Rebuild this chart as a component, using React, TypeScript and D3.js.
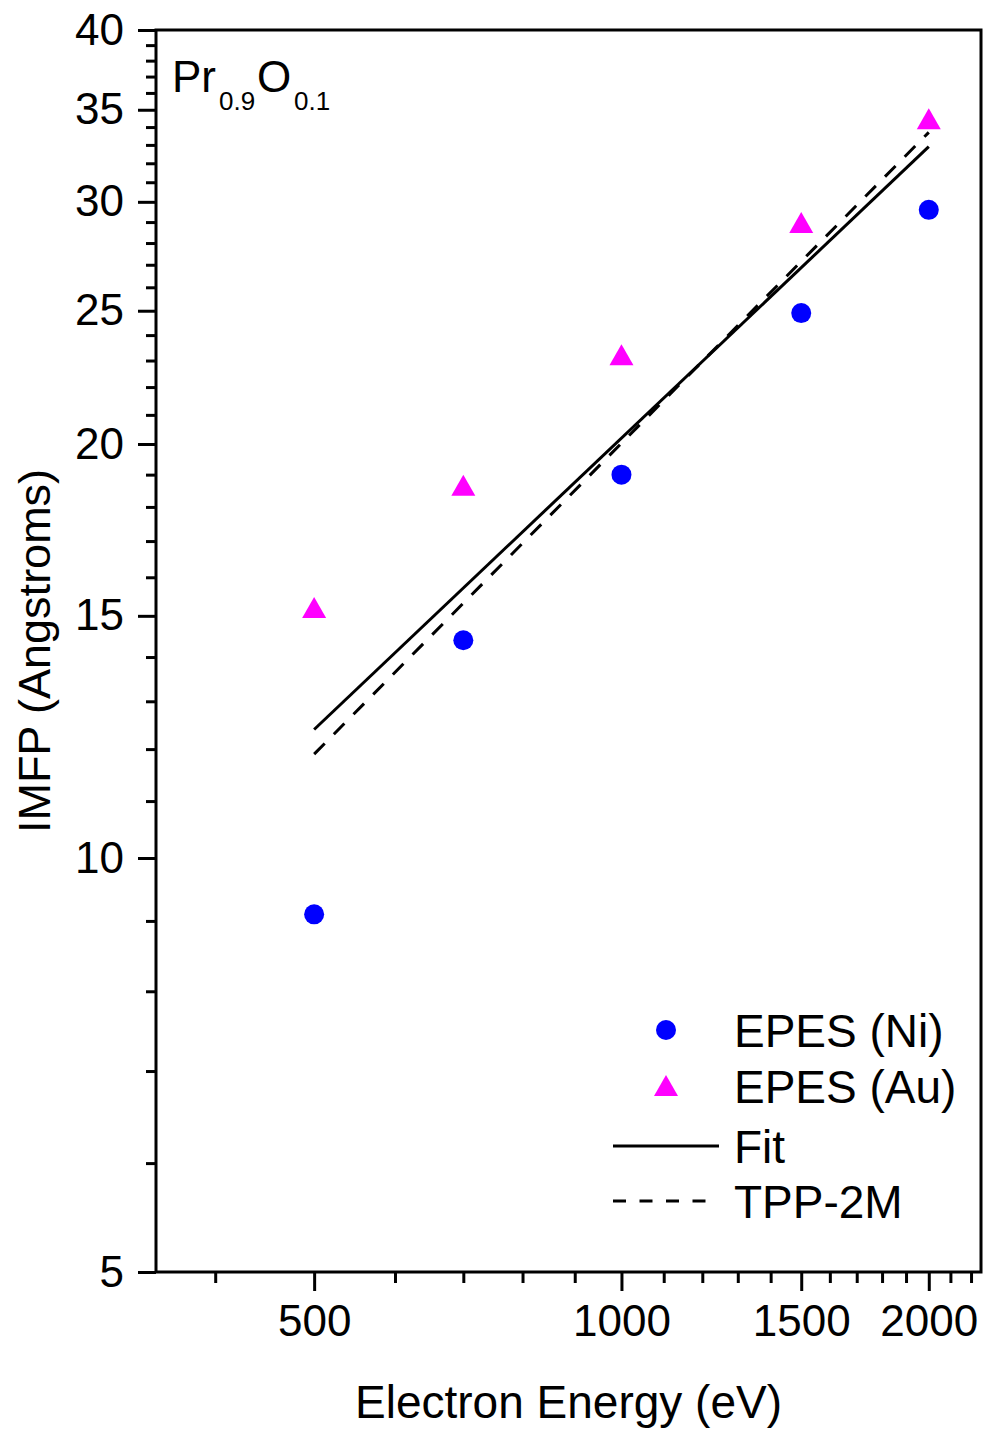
import * as d3 from 'd3'
import React, { useRef, useEffect } from 'react'

// energies in eV, IMFP in Angstroms
const energies = [500, 700, 1000, 1500, 2000]
const epesNi = [9.1, 14.4, 19.0, 24.9, 29.6]
const epesAu = [15.2, 18.65, 23.2, 28.95, 34.45]

// straight lines on log-log axes, endpoints only
const fitEnergy = [500, 2000]
const fitImfp = [12.4, 32.9]
const tppEnergy = [500, 2000]
const tppImfp = [11.9, 33.7]

const xMajor = [500, 1000, 1500, 2000]
const xMinor = [400, 600, 700, 800, 900, 1100, 1200, 1300, 1400, 1600, 1700, 1800, 1900, 2100, 2200]
const yMajor = [5, 10, 15, 20, 25, 30, 35, 40]
const yMinor = [6, 7, 8, 9, 11, 12, 13, 14, 16, 17, 18, 19, 21, 22, 23, 24, 26, 27, 28, 29, 31, 32, 33, 34, 36, 37, 38, 39]

const legendItems = ['EPES (Ni)', 'EPES (Au)', 'Fit', 'TPP-2M']

const W = 985
const H = 1430
const FONT = "Arial, 'Liberation Sans', sans-serif"

export default function App() {
  const ref = useRef(null)

  useEffect(() => {
    const svg = d3.select(ref.current)
    svg.selectAll('*').remove()

    const left = 156, right = 981, top = 30, bottom = 1272

    const x = d3.scaleLog().domain([350, 2250]).range([left, right])
    const y = d3.scaleLog().domain([5, 40]).range([bottom, top])

    const styleAxis = (g) => {
      g.attr('font-family', FONT).attr('font-size', 44)
      g.select('.domain').remove()
      g.selectAll('.tick line').attr('stroke', '#000').attr('stroke-width', 3)
      g.selectAll('.tick text').attr('fill', '#000')
    }

    // y axis
    svg.append('g')
      .attr('transform', `translate(${left},0)`)
      .call(d3.axisLeft(y).tickValues(yMinor).tickSize(10).tickFormat(() => ''))
      .call(styleAxis)
    svg.append('g')
      .attr('transform', `translate(${left},0)`)
      .call(d3.axisLeft(y).tickValues(yMajor).tickSize(18).tickPadding(14).tickFormat(d3.format('d')))
      .call(styleAxis)

    // x axis
    svg.append('g')
      .attr('transform', `translate(0,${bottom})`)
      .call(d3.axisBottom(x).tickValues(xMinor).tickSize(11).tickFormat(() => ''))
      .call(styleAxis)
    svg.append('g')
      .attr('transform', `translate(0,${bottom})`)
      .call(d3.axisBottom(x).tickValues(xMajor).tickSize(19).tickPadding(14).tickFormat(d3.format('d')))
      .call(styleAxis)

    // frame
    svg.append('rect')
      .attr('x', left).attr('y', top)
      .attr('width', right - left).attr('height', bottom - top)
      .attr('fill', 'none').attr('stroke', '#000').attr('stroke-width', 3)

    const line = d3.line().x(d => x(d[0])).y(d => y(d[1]))

    svg.append('path')
      .attr('d', line(fitEnergy.map((e, i) => [e, fitImfp[i]])))
      .attr('fill', 'none').attr('stroke', '#000').attr('stroke-width', 3)

    svg.append('path')
      .attr('d', line(tppEnergy.map((e, i) => [e, tppImfp[i]])))
      .attr('fill', 'none').attr('stroke', '#000').attr('stroke-width', 3)
      .attr('stroke-dasharray', '15 13')

    const tri = 'M0,-11L12,10L-12,10Z'

    svg.selectAll('circle.ni').data(energies).enter()
      .append('circle').attr('class', 'ni')
      .attr('cx', d => x(d)).attr('cy', (d, i) => y(epesNi[i]))
      .attr('r', 10).attr('fill', '#0000ff')

    svg.selectAll('path.au').data(energies).enter()
      .append('path').attr('class', 'au')
      .attr('d', tri)
      .attr('transform', (d, i) => `translate(${x(d)},${y(epesAu[i])})`)
      .attr('fill', '#ff00ff')

    // legend
    const lg = svg.append('g').attr('font-family', FONT).attr('font-size', 46)
    const rows = [1030, 1086, 1146, 1201]
    lg.append('circle').attr('cx', 666).attr('cy', rows[0]).attr('r', 10).attr('fill', '#0000ff')
    lg.append('path').attr('d', tri).attr('transform', `translate(666,${rows[1]})`).attr('fill', '#ff00ff')
    lg.append('line').attr('x1', 613).attr('x2', 719).attr('y1', rows[2]).attr('y2', rows[2])
      .attr('stroke', '#000').attr('stroke-width', 3)
    lg.append('line').attr('x1', 613).attr('x2', 719).attr('y1', rows[3]).attr('y2', rows[3])
      .attr('stroke', '#000').attr('stroke-width', 3).attr('stroke-dasharray', '13 13.5')
    lg.selectAll('text').data(legendItems).enter()
      .append('text')
      .attr('x', 734)
      .attr('y', (d, i) => rows[i] + 17)
      .text(d => d)

    // composition label
    const label = svg.append('text')
      .attr('y', 92)
      .attr('font-family', FONT).attr('font-size', 44)
    label.append('tspan').attr('x', 172).text('Pr')
    label.append('tspan').attr('x', 219).attr('font-size', 26).attr('dy', 18).text('0.9')
    label.append('tspan').attr('x', 257).attr('dy', -18).text('O')
    label.append('tspan').attr('x', 294).attr('font-size', 26).attr('dy', 18).text('0.1')

    // axis titles
    svg.append('text')
      .attr('x', (left + right) / 2).attr('y', 1418)
      .attr('text-anchor', 'middle')
      .attr('font-family', FONT).attr('font-size', 46)
      .text('Electron Energy (eV)')

    svg.append('text')
      .attr('transform', `translate(50,${(top + bottom) / 2}) rotate(-90)`)
      .attr('text-anchor', 'middle')
      .attr('font-family', FONT).attr('font-size', 45)
      .text('IMFP (Angstroms)')
  }, [])

  return (
    <div style={{ position: 'absolute', left: 0, top: 0 }}>
      <svg ref={ref} width={W} height={H} style={{ display: 'block', background: '#fff' }} />
    </div>
  )
}
